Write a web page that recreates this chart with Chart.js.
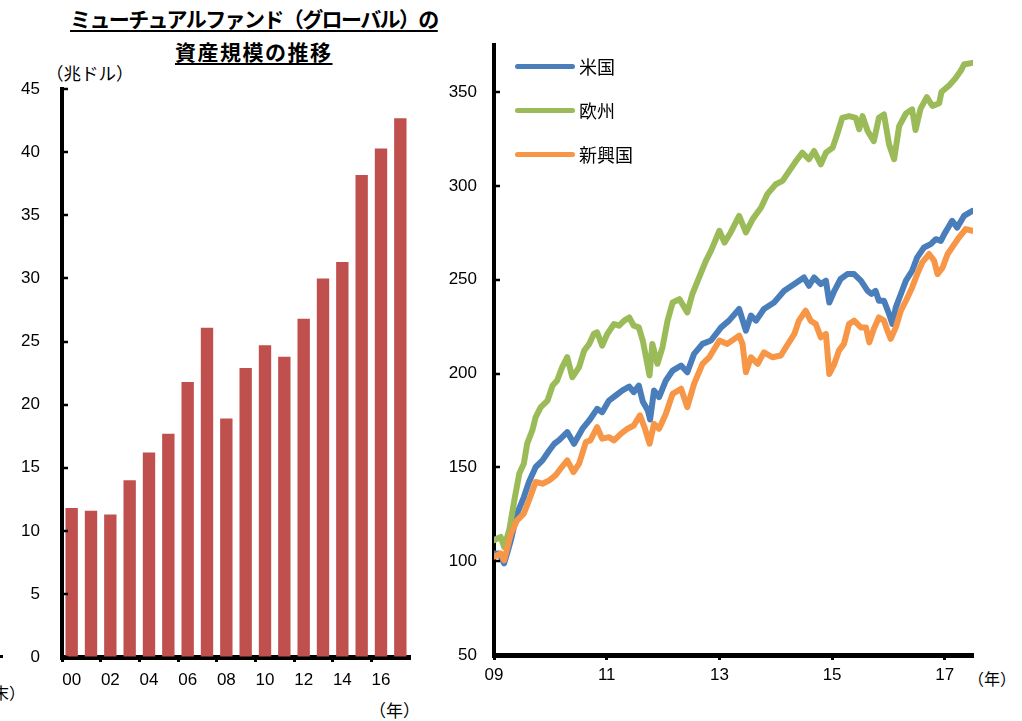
<!DOCTYPE html>
<html>
<head>
<meta charset="utf-8">
<script src="https://cdn.jsdelivr.net/npm/chart.js@4"></script>
<style>
  body { margin: 0; width: 1022px; height: 721px; position: relative; overflow: hidden; background: #fff;
         font-family: "Liberation Sans", "Noto Sans CJK JP", sans-serif; color: #000; }
  .txt { position: absolute; white-space: nowrap; }
  .title { font-weight: bold; font-size: 21px; text-decoration: underline; text-underline-offset: 3px; }
  canvas { position: absolute; }
  #legend { position: absolute; left: 515px; top: 55px; }
  .item { display: flex; align-items: center; height: 22px; margin-bottom: 22px; font-size: 18px; }
  .swatch { width: 60px; height: 5px; border-radius: 3px; margin-right: 4px; }
</style>
</head>
<body>
<div class="txt title" style="left:70px;top:3px;letter-spacing:-1.6px;">ミューチュアルファンド（グローバル）の</div>
<div class="txt title" style="left:175px;top:36px;letter-spacing:1.5px;">資産規模の推移</div>
<div class="txt" style="left:46px;top:60px;font-size:17.5px;">（兆ドル）</div>
<div class="txt" style="left:369px;top:697px;font-size:17px;">（年）</div>
<div class="txt" style="right:997px;top:680px;font-size:16px;">（年末）</div>
<div class="txt" style="left:0;top:655px;width:3px;height:3px;background:#000;"></div>
<div class="txt" style="left:968px;top:666px;font-size:16px;">（年）</div>

<canvas id="fundChart" width="420" height="643" style="left:0;top:57px;"></canvas>
<canvas id="indexChart" width="553" height="677" style="left:430px;top:18px;"></canvas>
<div id="legend"></div>

<script>
// left: mutual fund assets (trillion USD), year end
const fundYears = ["00","01","02","03","04","05","06","07","08","09","10","11","12","13","14","15","16","17"];
const fundAssets = [11.8, 11.6, 11.3, 14.0, 16.2, 17.7, 21.8, 26.1, 18.9, 22.9, 24.7, 23.8, 26.8, 30.0, 31.3, 38.2, 40.3, 42.7];
const fundTicks = [0, 5, 10, 15, 20, 25, 30, 35, 40, 45];

// right: stock indices (start of 2009 = 100)
const indexTicks = [50, 100, 150, 200, 250, 300, 350];
const yearTicks = [2009, 2011, 2013, 2015, 2017];
const seriesNames = ["米国", "欧州", "新興国"];
const seriesColors = ["#4a7ebb", "#9bbb59", "#f79646"];

const usYears = [2009.00,2009.09,2009.18,2009.30,2009.41,2009.53,2009.62,2009.74,2009.86,2009.98,
  2010.07,2010.15,2010.30,2010.42,2010.57,2010.69,2010.83,2010.92,2011.04,2011.16,2011.28,2011.40,
  2011.48,2011.57,2011.64,2011.73,2011.77,2011.84,2011.93,2012.05,2012.17,2012.32,2012.43,2012.55,
  2012.70,2012.85,2013.03,2013.17,2013.35,2013.47,2013.56,2013.65,2013.79,2013.97,2014.15,2014.33,
  2014.50,2014.59,2014.68,2014.80,2014.89,2014.95,2015.04,2015.15,2015.27,2015.39,2015.51,2015.63,
  2015.70,2015.77,2015.83,2015.92,2016.01,2016.07,2016.13,2016.22,2016.31,2016.42,2016.51,2016.63,
  2016.75,2016.84,2016.93,2016.99,2017.13,2017.22,2017.34,2017.49];
const usValues = [104.1,104.1,98.8,111.2,125.4,134.2,142.2,150.2,153.7,159.0,
  162.6,164.4,168.8,162.6,170.6,175.0,181.2,179.4,185.6,188.3,191.0,193.1,
  190.1,193.6,185.1,180.3,175.5,191.0,187.4,196.3,201.6,204.3,200.7,210.5,
  215.8,217.6,224.6,228.2,234.4,222.9,230.9,228.2,234.4,237.9,244.1,247.7,
  251.2,246.8,251.2,247.7,249.5,237.9,244.1,250.4,253.0,253.0,249.5,244.1,
  242.4,244.1,238.8,238.8,231.8,226.4,235.3,242.4,249.5,254.8,261.9,267.2,
  269.0,271.6,270.7,274.3,281.4,277.8,284.0,286.7];

const euYears = [2009.00,2009.12,2009.18,2009.27,2009.36,2009.45,2009.53,2009.59,2009.68,2009.74,
  2009.83,2009.95,2010.04,2010.12,2010.21,2010.30,2010.39,2010.51,2010.60,2010.69,2010.77,2010.83,
  2010.92,2011.01,2011.13,2011.22,2011.31,2011.40,2011.48,2011.57,2011.64,2011.76,2011.81,2011.90,
  2011.99,2012.08,2012.17,2012.29,2012.43,2012.52,2012.64,2012.76,2012.85,2013.00,2013.09,2013.20,
  2013.35,2013.47,2013.59,2013.74,2013.85,2014.00,2014.12,2014.24,2014.36,2014.47,2014.59,2014.68,
  2014.80,2014.89,2015.01,2015.09,2015.18,2015.30,2015.42,2015.48,2015.54,2015.63,2015.74,2015.83,
  2015.92,2016.01,2016.10,2016.19,2016.31,2016.42,2016.48,2016.57,2016.68,2016.78,2016.90,2016.94,
  2017.08,2017.19,2017.28,2017.34,2017.49];
const euValues = [111.2,112.9,107.6,116.5,132.4,146.8,152.1,162.8,169.7,176.8,
  182.1,185.6,193.6,196.3,203.4,208.7,198.0,203.4,212.2,215.8,221.1,222.0,
  214.9,221.1,226.4,225.5,228.2,229.9,225.5,224.6,217.6,199.0,215.8,205.2,
  214.0,228.2,237.9,239.7,232.6,242.4,251.2,260.1,265.4,276.1,269.8,275.2,
  284.0,275.2,282.3,288.5,295.6,300.9,302.7,308.0,313.3,317.7,314.2,318.6,
  311.5,317.7,320.4,327.5,336.3,337.2,336.3,330.2,337.2,329.3,323.9,336.3,
  338.1,322.2,314.2,331.9,338.6,340.8,329.8,341.2,347.3,342.6,344.1,350.0,
  353.7,357.4,361.2,364.7,365.6];

const emYears = [2009.00,2009.12,2009.18,2009.30,2009.41,2009.53,2009.62,2009.74,2009.86,2009.98,
  2010.09,2010.18,2010.30,2010.41,2010.51,2010.63,2010.71,2010.83,2010.92,2011.04,2011.13,2011.25,
  2011.37,2011.48,2011.59,2011.67,2011.76,2011.84,2011.93,2012.05,2012.17,2012.32,2012.43,2012.55,
  2012.70,2012.82,2013.00,2013.14,2013.35,2013.41,2013.47,2013.56,2013.68,2013.79,2013.94,2014.09,
  2014.18,2014.33,2014.41,2014.53,2014.62,2014.71,2014.80,2014.89,2014.95,2015.04,2015.12,2015.21,
  2015.30,2015.39,2015.51,2015.60,2015.66,2015.74,2015.83,2015.92,2015.98,2016.04,2016.13,2016.22,
  2016.31,2016.42,2016.51,2016.60,2016.72,2016.81,2016.87,2016.96,2017.05,2017.17,2017.25,2017.37,
  2017.49];
const emValues = [102.3,104.1,100.5,114.7,121.8,125.4,132.4,142.2,141.3,143.1,
  145.7,149.3,153.7,147.5,152.0,163.5,164.4,171.4,165.3,166.1,164.4,167.9,
  170.6,172.3,177.7,171.4,162.6,173.2,170.6,178.6,189.2,191.9,182.1,194.5,
  205.2,208.7,217.6,215.8,220.2,215.8,200.7,208.7,205.2,211.3,208.7,209.6,
  214.0,221.1,228.2,233.5,228.2,226.4,219.3,221.1,199.8,205.2,212.2,215.8,
  226.4,228.2,224.6,224.6,216.6,223.8,229.9,228.2,222.9,218.5,224.6,233.5,
  238.8,245.9,253.0,259.2,263.7,260.1,253.0,256.5,263.7,269.0,272.5,277.0,
  276.1];

Chart.defaults.font.family = '"Liberation Sans", "Noto Sans CJK JP", sans-serif';
Chart.defaults.font.size = 17;
Chart.defaults.color = "#000";

// y ticks of both charts point inwards, so draw them here
const innerTicks = {
  id: "innerTicks",
  afterDraw(chart) {
    const y = chart.scales.y;
    const ctx = chart.ctx;
    ctx.save();
    ctx.strokeStyle = "#000";
    ctx.lineWidth = 2.5;
    y.ticks.forEach(t => {
      const py = Math.round(y.getPixelForValue(t.value));
      ctx.beginPath();
      ctx.moveTo(y.right, py);
      ctx.lineTo(y.right + 6, py);
      ctx.stroke();
    });
    ctx.restore();
  }
};

new Chart(document.getElementById("fundChart"), {
  type: "bar",
  data: {
    labels: fundYears,
    datasets: [{
      data: fundAssets,
      backgroundColor: "#c0504d",
      barPercentage: 0.64,
      categoryPercentage: 1.0
    }]
  },
  options: {
    responsive: false,
    animation: false,
    layout: { padding: { top: 5, right: 10, left: 0, bottom: 0 } },
    plugins: { legend: { display: false }, tooltip: { enabled: false } },
    scales: {
      x: {
        offset: true,
        grid: {
          offset: true,
          drawOnChartArea: false,
          tickLength: 5,
          tickWidth: 3,
          tickColor: c => (c.index % 2 === 0 ? "#000" : "rgba(0,0,0,0)")
        },
        border: { color: "#000", width: 5 },
        ticks: {
          autoSkip: false,
          maxRotation: 0,
          padding: 8,
          callback: (v, i) => (i % 2 === 0 ? fundYears[i] : "")
        },
        afterFit: s => { s.height = 43; }
      },
      y: {
        min: 0,
        max: 45,
        afterBuildTicks: s => { s.ticks = fundTicks.map(v => ({ value: v })); },
        grid: { drawOnChartArea: false, drawTicks: false },
        border: { color: "#000", width: 4 },
        ticks: { padding: 22 },
        afterFit: s => { s.width = 62; }
      }
    }
  },
  plugins: [innerTicks]
});

function pts(xs, ys) {
  return xs.map((x, i) => ({ x: x, y: ys[i] }));
}

const lineSets = [
  { label: seriesNames[0], data: pts(usYears, usValues), borderColor: seriesColors[0], order: 3 },
  { label: seriesNames[1], data: pts(euYears, euValues), borderColor: seriesColors[1], order: 2 },
  { label: seriesNames[2], data: pts(emYears, emValues), borderColor: seriesColors[2], order: 1 }
];
lineSets.forEach(d => {
  d.borderWidth = 6;
  d.pointRadius = 0;
  d.tension = 0;
  d.borderJoinStyle = "round";
  d.borderCapStyle = "round";
});

new Chart(document.getElementById("indexChart"), {
  type: "line",
  data: { datasets: lineSets },
  options: {
    responsive: false,
    animation: false,
    layout: { padding: { top: 2, right: 10, left: 0, bottom: 0 } },
    plugins: { legend: { display: false }, tooltip: { enabled: false } },
    scales: {
      x: {
        type: "linear",
        min: 2009,
        max: 2017.5,
        afterBuildTicks: s => { s.ticks = yearTicks.map(v => ({ value: v })); },
        grid: { drawOnChartArea: false, tickLength: 5, tickWidth: 3, tickColor: "#000" },
        border: { color: "#000", width: 5 },
        ticks: { maxRotation: 0, padding: 5, callback: v => String(v).slice(2) },
        afterFit: s => { s.height = 40; }
      },
      y: {
        min: 50,
        max: 375,
        afterBuildTicks: s => { s.ticks = indexTicks.map(v => ({ value: v })); },
        grid: { drawOnChartArea: false, drawTicks: false },
        border: { color: "#000", width: 4 },
        ticks: { padding: 17 },
        afterFit: s => { s.width = 64; }
      }
    }
  },
  plugins: [innerTicks]
});

// legend inside the plot, top-left
const legend = document.getElementById("legend");
seriesNames.forEach((name, i) => {
  const row = document.createElement("div");
  row.className = "item";
  row.innerHTML = '<div class="swatch" style="background:' + seriesColors[i] + '"></div><span>' + name + "</span>";
  legend.appendChild(row);
});
</script>
</body>
</html>
